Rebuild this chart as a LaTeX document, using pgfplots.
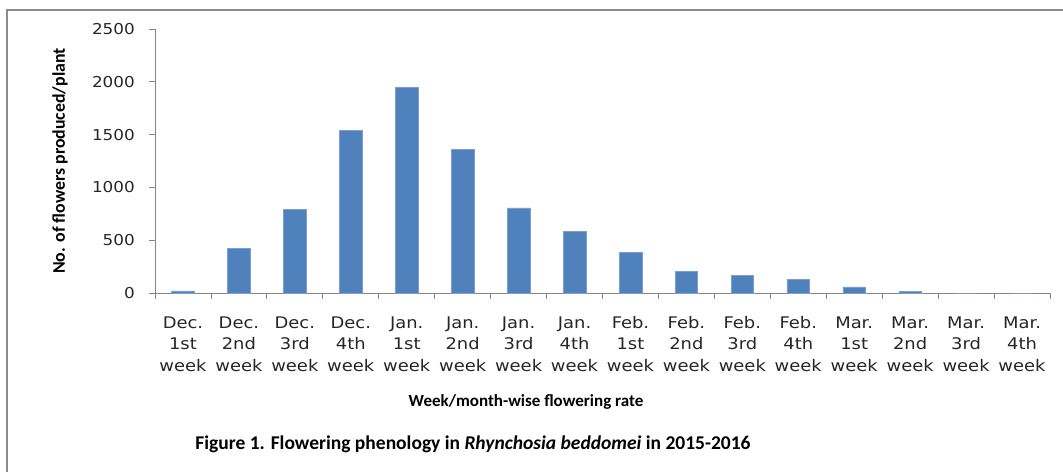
\documentclass[border=0pt]{standalone}
\usepackage{fontspec}
\setmainfont{Carlito}
\newfontfamily\tickfont[FakeStretch=1.12]{DejaVu Sans}
\usepackage{pgfplots}
\pgfplotsset{compat=1.18}
\definecolor{barblue}{HTML}{4F81BD}
\definecolor{axgray}{HTML}{868686}
\definecolor{framegray}{HTML}{8C8C8C}
\newcommand{\tl}[3]{\strut #1\\\strut #2\\\strut #3}
\begin{document}
\begin{tikzpicture}
\path[use as bounding box] (0,0) rectangle (1063bp,-472bp);
\draw[framegray, line width=2bp] (6.5bp,-472bp) -- (6.5bp,-9.5bp) -- (1063bp,-9.5bp);
\begin{axis}[
  at={(155bp,-293bp)}, anchor=south west,
  scale only axis, width=895bp, height=264bp,
  xmin=-0.5, xmax=15.5, ymin=0, ymax=2500,
  axis x line*=bottom, axis y line*=left,
  axis line style={draw=axgray, line width=0.8bp, -},
  tick align=outside,
  major tick length=6bp,
  tick style={draw=axgray, line width=0.8bp},
  xtick={-0.5,0.5,...,15.5}, xticklabels={},
  extra x ticks={0,1,...,15},
  extra x tick style={major tick length=0pt},
  extra x tick labels={{\tl{Dec.}{1st}{week}},{\tl{Dec.}{2nd}{week}},{\tl{Dec.}{3rd}{week}},{\tl{Dec.}{4th}{week}},
    {\tl{Jan.}{1st}{week}},{\tl{Jan.}{2nd}{week}},{\tl{Jan.}{3rd}{week}},{\tl{Jan.}{4th}{week}},
    {\tl{Feb.}{1st}{week}},{\tl{Feb.}{2nd}{week}},{\tl{Feb.}{3rd}{week}},{\tl{Feb.}{4th}{week}},
    {\tl{Mar.}{1st}{week}},{\tl{Mar.}{2nd}{week}},{\tl{Mar.}{3rd}{week}},{\tl{Mar.}{4th}{week}}},
  xticklabel style={align=center, anchor=north, inner sep=0pt, yshift=-20bp,
    font=\tickfont\fontsize{16bp}{21.5bp}\selectfont, text=black!85},
  ytick={0,500,...,2500},
  yticklabel style={anchor=east, inner sep=0pt, xshift=-14bp,
    font=\tickfont\fontsize{15bp}{18bp}\selectfont, text=black!85},
  /pgf/number format/assume math mode=true,
  /pgf/number format/1000 sep={},
  clip=false,
]
\addplot[ybar, bar width=22.7bp, fill=barblue, draw=barblue!75!white, line width=0.6bp]
  coordinates {(0,20) (1,423) (2,789) (3,1540) (4,1945) (5,1361) (6,805) (7,585)
   (8,382) (9,205) (10,168) (11,130) (12,57) (13,17) (14,0) (15,0)};
\end{axis}
\node[rotate=90, font=\bfseries\fontsize{17.8bp}{20bp}\selectfont] at (60bp,-161bp) {No. of flowers produced/plant};
\node[font=\bfseries\fontsize{17bp}{20bp}\selectfont] at (526bp,-402bp) {Week/month-wise flowering rate};
\node[font=\bfseries\fontsize{19.5bp}{22bp}\selectfont] at (473bp,-444bp) {Figure 1. Flowering phenology in \textit{Rhynchosia beddomei} in 2015-2016};
\end{tikzpicture}
\end{document}
